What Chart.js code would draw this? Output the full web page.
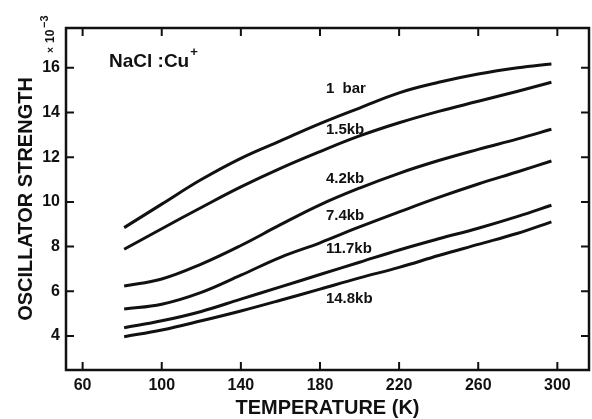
<!DOCTYPE html>
<html>
<head>
<meta charset="utf-8">
<script src="https://cdn.jsdelivr.net/npm/chart.js@4"></script>
<style>
  html, body { margin: 0; padding: 0; background: #fff; }
  #wrap { width: 592px; height: 419px; }
</style>
</head>
<body>
<div id="wrap"><canvas id="chartOsc" width="592" height="419"></canvas></div>
<script>
// ── Datos (NaCl:Cu+, fuerza de oscilador vs T) ──────────────────────────────
const temps = [81, 100, 120, 140, 160, 180, 200, 220, 240, 260, 280, 297];

const s1bar = [8.85, 9.9, 11.0, 11.95, 12.73, 13.5, 14.2, 14.88, 15.35, 15.72, 16.0, 16.17];
const s15kb = [7.88, 8.8, 9.75, 10.67, 11.5, 12.25, 12.95, 13.54, 14.05, 14.5, 14.95, 15.35];
const s42kb = [6.24, 6.55, 7.22, 8.05, 8.98, 9.87, 10.62, 11.28, 11.85, 12.35, 12.82, 13.25];
const s74kb = [5.21, 5.42, 5.95, 6.72, 7.52, 8.17, 8.88, 9.55, 10.2, 10.8, 11.35, 11.83];
const s117kb = [4.37, 4.68, 5.1, 5.65, 6.2, 6.75, 7.3, 7.85, 8.35, 8.82, 9.35, 9.85];
const s148kb = [3.97, 4.27, 4.68, 5.12, 5.6, 6.1, 6.6, 7.07, 7.6, 8.1, 8.6, 9.11];

const seriesNames = ["1  bar", "1.5kb", "4.2kb", "7.4kb", "11.7kb", "14.8kb"];
const seriesValues = [s1bar, s15kb, s42kb, s74kb, s117kb, s148kb];

// etiquetas de cada curva (en unidades de datos)
const labelTemp = 183;
const labelY = [15.05, 13.21, 11.04, 9.37, 7.89, 5.66];

const xTicks = [60, 100, 140, 180, 220, 260, 300];
const yTicks = [4, 6, 8, 10, 12, 14, 16];

const INK = "#111";
const FONT = "'Liberation Sans', Arial, sans-serif";

// ── Marco con marcas hacia adentro en los cuatro lados ──────────────────────
const frameTicks = {
  id: "frameTicks",
  afterDraw(chart) {
    const { ctx, chartArea: a, scales } = chart;
    const L = 8;
    ctx.save();
    ctx.strokeStyle = INK;
    ctx.lineWidth = 2.5;
    ctx.strokeRect(a.left, a.top, a.right - a.left, a.bottom - a.top);
    ctx.lineWidth = 2;
    ctx.beginPath();
    xTicks.forEach((t) => {
      const px = scales.x.getPixelForValue(t);
      ctx.moveTo(px, a.bottom); ctx.lineTo(px, a.bottom - L);
      ctx.moveTo(px, a.top); ctx.lineTo(px, a.top + L);
    });
    yTicks.forEach((t) => {
      const py = scales.y.getPixelForValue(t);
      ctx.moveTo(a.left, py); ctx.lineTo(a.left + L, py);
      ctx.moveTo(a.right, py); ctx.lineTo(a.right - L, py);
    });
    ctx.stroke();
    ctx.restore();
  },
};

// ── Textos: etiquetas de curvas, NaCl:Cu+, factor ×10^-3 ────────────────────
const annotations = {
  id: "annotations",
  afterDraw(chart) {
    const { ctx, chartArea: a, scales } = chart;
    ctx.save();
    ctx.fillStyle = INK;
    ctx.textBaseline = "middle";
    ctx.textAlign = "left";

    ctx.font = `bold 15px ${FONT}`;
    seriesNames.forEach((name, i) => {
      ctx.fillText(name, scales.x.getPixelForValue(labelTemp), scales.y.getPixelForValue(labelY[i]));
    });

    // rótulo de la muestra
    ctx.textBaseline = "alphabetic";
    ctx.font = `bold 19px ${FONT}`;
    const nx = a.left + 43, ny = a.top + 39;
    ctx.fillText("NaCl :Cu", nx, ny);
    const w = ctx.measureText("NaCl :Cu").width;
    ctx.font = `bold 13px ${FONT}`;
    ctx.fillText("+", nx + w + 1, ny - 11);

    // factor de escala rotado
    ctx.translate(a.left - 15, a.top + 25);
    ctx.rotate(-Math.PI / 2);
    ctx.textBaseline = "middle";
    ctx.font = `bold 10px ${FONT}`;
    ctx.fillText("×", 0, 0);
    ctx.font = `bold 12px ${FONT}`;
    ctx.fillText("10", 10, 0);
    ctx.font = `bold 11px ${FONT}`;
    ctx.fillText("−3", 25, -6);
    ctx.restore();
  },
};

new Chart(document.getElementById("chartOsc").getContext("2d"), {
  type: "line",
  data: {
    datasets: seriesValues.map((vals, i) => ({
      label: seriesNames[i],
      data: temps.map((t, j) => ({ x: t, y: vals[j] })),
      borderColor: INK,
      borderWidth: 3,
      pointRadius: 0,
      tension: 0.4,
      fill: false,
    })),
  },
  options: {
    responsive: false,
    animation: false,
    layout: { padding: { top: 28, right: 3, left: 0, bottom: 0 } },
    plugins: { legend: { display: false }, tooltip: { enabled: false } },
    scales: {
      x: {
        type: "linear",
        min: 51.6,
        max: 316,
        afterBuildTicks: (s) => { s.ticks = xTicks.map((v) => ({ value: v })); },
        afterFit: (s) => { s.height = 49; },
        grid: { display: false, drawTicks: false },
        border: { display: false },
        ticks: { color: INK, padding: 6, font: { family: FONT, size: 16, weight: "bold" } },
        title: {
          display: true,
          text: "TEMPERATURE (K)",
          color: INK,
          padding: { top: 0, bottom: 1 },
          font: { family: FONT, size: 20, weight: "bold", lineHeight: 1 },
        },
      },
      y: {
        type: "linear",
        min: 2.48,
        max: 17.78,
        afterBuildTicks: (s) => { s.ticks = yTicks.map((v) => ({ value: v })); },
        afterFit: (s) => { s.width = 66; },
        grid: { display: false, drawTicks: false },
        border: { display: false },
        ticks: { color: INK, padding: 6, font: { family: FONT, size: 16, weight: "bold" } },
        title: {
          display: true,
          text: "OSCILLATOR STRENGTH",
          color: INK,
          padding: { top: 16, bottom: 0 },
          font: { family: FONT, size: 20, weight: "bold", lineHeight: 1 },
        },
      },
    },
  },
  plugins: [frameTicks, annotations],
});
</script>
</body>
</html>
